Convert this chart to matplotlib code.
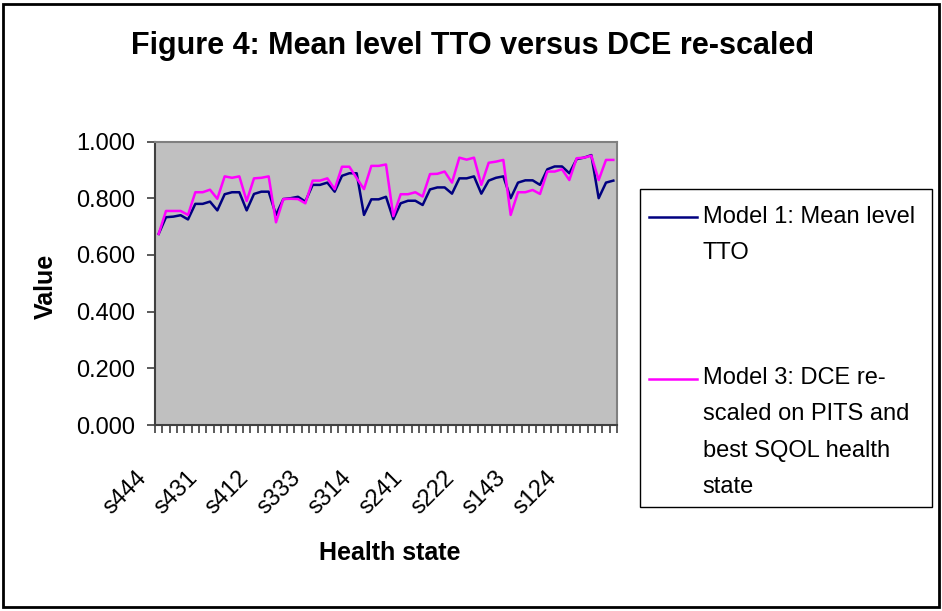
import matplotlib.pyplot as plt
import numpy as np
from matplotlib.legend_handler import HandlerLine2D
from matplotlib.transforms import ScaledTranslation
from matplotlib.patches import Rectangle

plt.rcParams['font.family'] = ['Liberation Sans', 'DejaVu Sans']

states = ["s444", "s443", "s442", "s441", "s434", "s433", "s432", "s431",
          "s424", "s423", "s422", "s421", "s414", "s413", "s412", "s411",
          "s344", "s343", "s342", "s341", "s334", "s333", "s332", "s331",
          "s324", "s323", "s322", "s321", "s314", "s313", "s312", "s311",
          "s244", "s243", "s242", "s241", "s234", "s233", "s232", "s231",
          "s224", "s223", "s222", "s221", "s214", "s213", "s212", "s211",
          "s144", "s143", "s142", "s141", "s134", "s133", "s132", "s131",
          "s124", "s123", "s122", "s121", "s114", "s113", "s112"]

model1 = [0.674, 0.733, 0.735, 0.740, 0.725, 0.780, 0.780, 0.788,
          0.757, 0.814, 0.821, 0.821, 0.757, 0.815, 0.823, 0.823,
          0.741, 0.797, 0.800, 0.805, 0.788, 0.847, 0.847, 0.855,
          0.823, 0.879, 0.888, 0.888, 0.741, 0.796, 0.796, 0.805,
          0.726, 0.782, 0.791, 0.791, 0.776, 0.831, 0.838, 0.838,
          0.816, 0.870, 0.870, 0.877, 0.816, 0.862, 0.872, 0.877,
          0.800, 0.855, 0.863, 0.863, 0.847, 0.902, 0.912, 0.912,
          0.888, 0.938, 0.943, 0.952, 0.800, 0.855, 0.862]

model3 = [0.674, 0.755, 0.755, 0.755, 0.741, 0.821, 0.821, 0.830,
          0.798, 0.877, 0.872, 0.877, 0.790, 0.870, 0.872, 0.877,
          0.715, 0.797, 0.798, 0.797, 0.782, 0.862, 0.862, 0.870,
          0.832, 0.911, 0.911, 0.871, 0.832, 0.914, 0.914, 0.919,
          0.737, 0.814, 0.814, 0.821, 0.806, 0.885, 0.886, 0.894,
          0.855, 0.943, 0.936, 0.943, 0.847, 0.925, 0.929, 0.935,
          0.741, 0.821, 0.821, 0.829, 0.815, 0.894, 0.894, 0.902,
          0.864, 0.941, 0.943, 0.950, 0.864, 0.935, 0.935]

label1 = "Model 1: Mean level\nTTO"
label3 = "Model 3: DCE re-\nscaled on PITS and\nbest SQOL health\nstate"
yticks = [0.0, 0.2, 0.4, 0.6, 0.8, 1.0]


class FirstLineHandler(HandlerLine2D):
    # put the legend line next to the first text line, like Excel does
    def __init__(self, n_lines, pitch, **kw):
        super().__init__(**kw)
        self.n_lines = n_lines
        self.pitch = pitch

    def create_artists(self, legend, orig_handle, xdescent, ydescent,
                       width, height, fontsize, trans):
        artists = super().create_artists(legend, orig_handle, xdescent, ydescent,
                                         width, height, fontsize, trans)
        shift = (self.n_lines - 1) / 2 * self.pitch * fontsize
        for a in artists:
            a.set_ydata(np.asarray(a.get_ydata()) + shift)
        return artists


W, H = 942, 611
fig = plt.figure(figsize=(W / 100, H / 100), dpi=100)
fig.patches.append(Rectangle((3 / W, 4 / H), 936 / W, 603 / H, transform=fig.transFigure,
                             fill=False, lw=2, ec='black'))
# legend frame
fig.patches.append(Rectangle((640 / W, 1 - 507 / H), 292 / W, 318 / H, transform=fig.transFigure,
                             fill=False, lw=1, ec='black'))

ax = fig.add_axes([155 / W, 1 - 425 / H, 462 / W, 283.5 / H])
ax.set_facecolor('#C0C0C0')

x = np.arange(len(states))
l1, = ax.plot(x, model1, color='#000080', lw=1.8)
l3, = ax.plot(x, model3, color='#FF00FF', lw=1.8)

ax.set_xlim(-0.5, len(states) - 0.5)
ax.set_ylim(0, 1)
ax.set_yticks(yticks)
ax.set_yticklabels([f'{v:.3f}' for v in yticks], fontsize=17)
ax.tick_params(axis='y', length=6, width=1.2, color='#404040', pad=8)

ax.set_xticks(x[::7])
ax.set_xticklabels(states[::7], rotation=45, ha='right', va='top', fontsize=17)
ax.set_xticks(np.arange(-0.5, len(states)), minor=True)
ax.tick_params(axis='x', which='major', length=0, pad=30)
ax.tick_params(axis='x', which='minor', length=6, width=1.2, color='#404040')
shift = ScaledTranslation(-8 / 100, 0, fig.dpi_scale_trans)
for t in ax.get_xticklabels():
    t.set_transform(t.get_transform() + shift)

for s in ['left', 'bottom']:
    ax.spines[s].set_color('#404040')
    ax.spines[s].set_linewidth(1.5)
for s in ['top', 'right']:
    ax.spines[s].set_color('#808080')
    ax.spines[s].set_linewidth(1.5)

ax.set_ylabel('Value', fontsize=18, fontweight='bold')
ax.yaxis.set_label_coords(-0.21, 0.49)
ax.set_xlabel('Health state', fontsize=18, fontweight='bold')
ax.xaxis.set_label_coords(0.509, -0.41)

fig.text(473 / W, 1 - 46 / H, 'Figure 4: Mean level TTO versus DCE re-scaled',
         ha='center', va='center', fontsize=22, fontweight='bold')

linesp = 1.84
pitch = 1.525  # measured baseline-to-baseline distance, in font sizes
leg = fig.legend([l1, l3], [label1, label3], loc='upper left',
                 bbox_to_anchor=(649 / W, 1 - 206 / H),
                 borderaxespad=0, borderpad=0, fontsize=17,
                 handlelength=2.03, handletextpad=0.25,
                 labelspacing=4.35, frameon=False,
                 handler_map={l1: FirstLineHandler(2, pitch),
                              l3: FirstLineHandler(4, pitch)})
for t in leg.get_texts():
    t.set_linespacing(linesp)

fig.savefig('out.png', dpi=100)
